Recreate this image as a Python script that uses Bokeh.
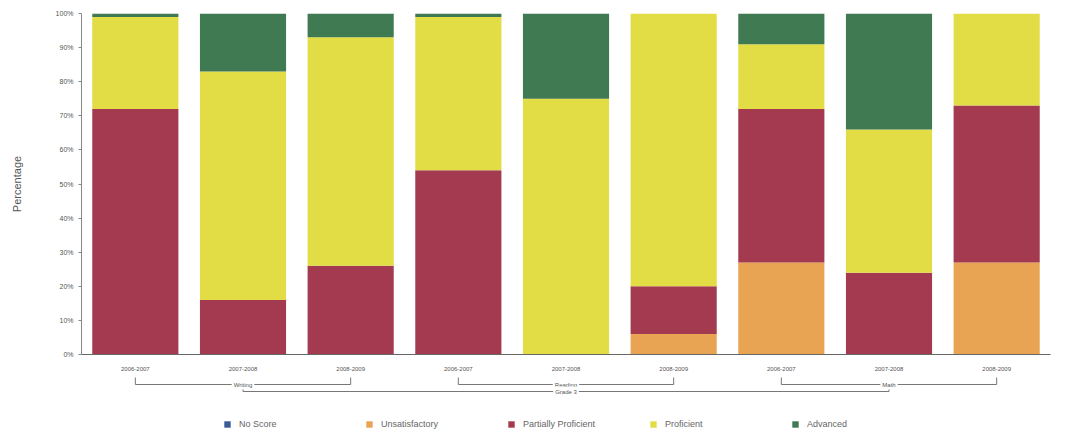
from bokeh.plotting import figure
from bokeh.models import (Range1d, FixedTicker, Legend, LegendItem, ColumnDataSource,
                          PrintfTickFormatter)
from bokeh.layouts import column
from bokeh.core.properties import value
from bokeh.embed import file_html
from bokeh.resources import INLINE

# ---------------- data ----------------
years = ["2006-2007", "2007-2008", "2008-2009",
         "2006-2007", "2007-2008", "2008-2009",
         "2006-2007", "2007-2008", "2008-2009"]
subjects = ["Writing", "Reading", "Math"]
grade = "Grade 3"
levels = ["No Score", "Unsatisfactory", "Partially Proficient", "Proficient", "Advanced"]
no_score = [0, 0, 0, 0, 0, 0, 0, 0, 0]
unsatisfactory = [0, 0, 0, 0, 0, 6, 27, 0, 27]
partially_proficient = [72, 16, 26, 54, 0, 14, 45, 24, 46]
proficient = [27, 67, 67, 45, 75, 80, 19, 42, 27]
advanced = [1, 17, 7, 1, 25, 0, 9, 34, 0]
y_ticks = [0, 10, 20, 30, 40, 50, 60, 70, 80, 90, 100]

colors = ["#3b5b96", "#e8a453", "#a43a4f", "#e2dc45", "#3f7a52"]
FONT = "Liberation Sans"
TXT = "#555555"

xs = list(range(1, len(years) + 1))
src = ColumnDataSource(dict(x=xs, **dict(zip(levels, [no_score, unsatisfactory,
                                                       partially_proficient,
                                                       proficient, advanced]))))

W = 1060
# ---------------- main chart ----------------
p = figure(width=W, height=374, x_range=Range1d(0.5, len(years) + 0.5),
           y_range=Range1d(0, 100), output_backend="svg", toolbar_location=None,
           min_border_left=81, min_border_right=10, min_border_top=13, min_border_bottom=20)
p.vbar_stack(levels, x="x", width=0.8, color=colors, line_color=None, source=src)

p.outline_line_color = None
p.xgrid.grid_line_color = None
p.ygrid.grid_line_color = None

p.yaxis.ticker = FixedTicker(ticks=y_ticks)
p.yaxis.formatter = PrintfTickFormatter(format="%d%%")
p.yaxis.major_label_text_font_size = "7px"
p.yaxis.major_label_text_color = TXT
p.yaxis.major_label_text_font = FONT
p.yaxis.axis_line_color = "#888888"
p.yaxis.major_tick_line_color = "#888888"
p.yaxis.major_tick_out = 3
p.yaxis.major_tick_in = 0
p.yaxis.minor_tick_line_color = None
p.yaxis.axis_label = "Percentage"
p.yaxis.axis_label_text_font_size = "11px"
p.yaxis.axis_label_text_font_style = "normal"
p.yaxis.axis_label_text_color = TXT
p.yaxis.axis_label_text_font = FONT
p.yaxis.axis_label_standoff = 30

p.xaxis.ticker = FixedTicker(ticks=xs)
p.xaxis.major_label_overrides = {x: y for x, y in zip(xs, years)}
p.xaxis.major_label_text_font_size = "6px"
p.xaxis.major_label_text_color = TXT
p.xaxis.major_label_text_font = FONT
p.xaxis.major_tick_line_color = None
p.xaxis.minor_tick_line_color = None
p.xaxis.axis_line_color = "#666666"
p.xaxis.major_label_standoff = 6

# ---------------- brackets + legend ----------------
H2 = 58
p2 = figure(width=W, height=H2, x_range=p.x_range, y_range=Range1d(0, H2),
            output_backend="svg", toolbar_location=None, x_axis_type=None,
            y_axis_type=None, min_border_left=81, min_border_right=10,
            min_border_top=0, min_border_bottom=0)
p2.outline_line_color = None
p2.xgrid.grid_line_color = None
p2.ygrid.grid_line_color = None

sub_y, sub_top = H2 - 10, H2 - 3
grd_y, grd_top = H2 - 17, H2 - 10
n_per = len(years) // len(subjects)
sub_centers = []
h0, h1, hy, v_x, v_y0, v_y1 = [], [], [], [], [], []
for i, s in enumerate(subjects):
    a, b = xs[i * n_per], xs[i * n_per + n_per - 1]
    sub_centers.append((a + b) / 2)
    h0.append(a); h1.append(b); hy.append(sub_y)
    v_x += [a, b]; v_y0 += [sub_y, sub_y]; v_y1 += [sub_top, sub_top]
ga, gb = sub_centers[0], sub_centers[-1]
h0.append(ga); h1.append(gb); hy.append(grd_y)
v_x += [ga, gb]; v_y0 += [grd_y, grd_y]; v_y1 += [grd_top, grd_top]

p2.segment(x0=h0, x1=h1, y0=hy, y1=hy, line_color="#777777", line_width=1)
p2.segment(x0=v_x, x1=v_x, y0=v_y0, y1=v_y1, line_color="#777777", line_width=1)

lab_x = sub_centers + [(ga + gb) / 2]
lab_y = [sub_y] * len(subjects) + [grd_y]
lab_t = subjects + [grade]
p2.text(x=lab_x, y=lab_y, text=lab_t, text_align="center", text_baseline="middle",
        text_font_size="6px", text_color=TXT, text_font=value(FONT),
        background_fill_color="white", padding=2)

items = []
for lvl, c in zip(levels, colors):
    r = p2.quad(left=[0], right=[0], top=[0], bottom=[0], fill_color=c, line_color=None)
    items.append(LegendItem(label=lvl, renderers=[r]))
legend = Legend(items=items, orientation="horizontal", location=(142, 2),
                label_width=112, label_height=12, spacing=14, padding=0, margin=0,
                glyph_width=8, glyph_height=8, label_standoff=8,
                background_fill_alpha=0, border_line_color=None,
                label_text_font_size="9px", label_text_color="#666666",
                label_text_font=FONT)
p2.add_layout(legend, "center")

layout = column(p, p2, spacing=0)
open("out.html", "w").write(file_html(layout, INLINE))
